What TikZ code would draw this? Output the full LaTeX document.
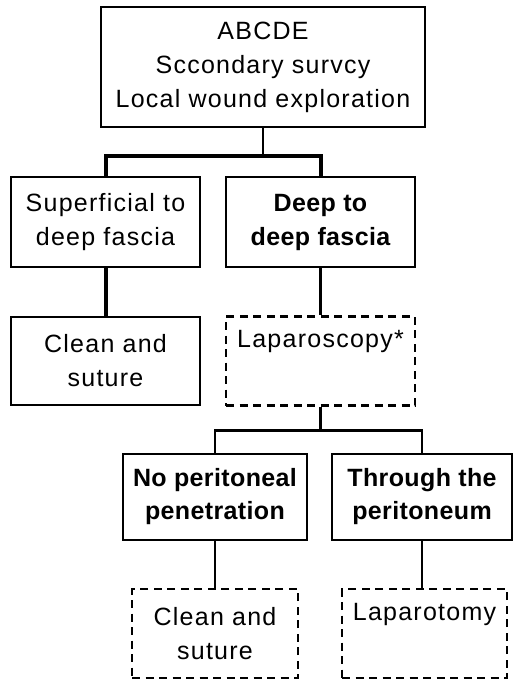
\documentclass[tikz,border=0pt]{standalone}
\usepackage{fontspec}
\setmainfont{Liberation Sans}[LetterSpace=5,BoldFeatures={LetterSpace=1.5}]
\begin{document}
\begin{tikzpicture}[x=1pt,y=-1pt,
  box/.style={draw, line width=2.6pt, rectangle, align=center, inner sep=0pt,
    font=\fontsize{25}{34}\selectfont},
  dbox/.style={box, dashed, dash pattern=on 8pt off 5.5pt, line width=2.4pt},
  conn/.style={line width=2.8pt},
  thickconn/.style={line width=4pt}]
\useasboundingbox (0,0) rectangle (515,682);
\node[box, line width=2pt, minimum width=324pt, minimum height=120pt] (top) at (263,67)
  {ABCDE\\Sccondary survcy\\Local wound exploration};
\node[box, minimum width=189pt, minimum height=90pt] (sup) at (105.5,222) {Superficial to\\deep fascia};
\node[box, minimum width=189pt, minimum height=90pt, font=\fontsize{25}{34}\selectfont\bfseries] (deep) at (320.5,222) {Deep to\\deep fascia};
\node[box, minimum width=189pt, minimum height=88pt] (clean1) at (105.5,361) {Clean and\\suture};
\node[dbox, minimum width=189pt, minimum height=89pt] (lap) at (320.5,361) {Laparoscopy*\\\strut};
\node[box, minimum width=184pt, minimum height=86pt, font=\fontsize{25}{33}\selectfont\bfseries] (noper) at (215,497) {No peritoneal\\penetration};
\node[box, minimum width=180pt, minimum height=86pt, font=\fontsize{25}{33}\selectfont\bfseries] (thru) at (422,497) {Through the\\peritoneum};
\node[dbox, minimum width=166pt, minimum height=89pt] (clean2) at (215,633.5) {Clean and\\suture};
\node[dbox, minimum width=165pt, minimum height=89pt] (lapt) at (424.5,633.5) {Laparotomy\\\strut};
% connectors
\draw[line width=2.6pt] (top.south) -- ++(0,28) coordinate (j1);
\draw[thickconn] (sup.north) |- (j1) -| (deep.north);
\draw[thickconn] (sup.south) -- (clean1.north);
\draw[conn] (deep.south) -- (lap.north);
\draw[conn] (lap.south) -- ++(0,24) coordinate (j2);
\draw[conn] (noper.north) |- (j2) -| (thru.north);
\draw[conn] (noper.south) -- (clean2.north);
\draw[conn] (thru.south) -- (thru.south |- lapt.north);
\end{tikzpicture}
\end{document}
